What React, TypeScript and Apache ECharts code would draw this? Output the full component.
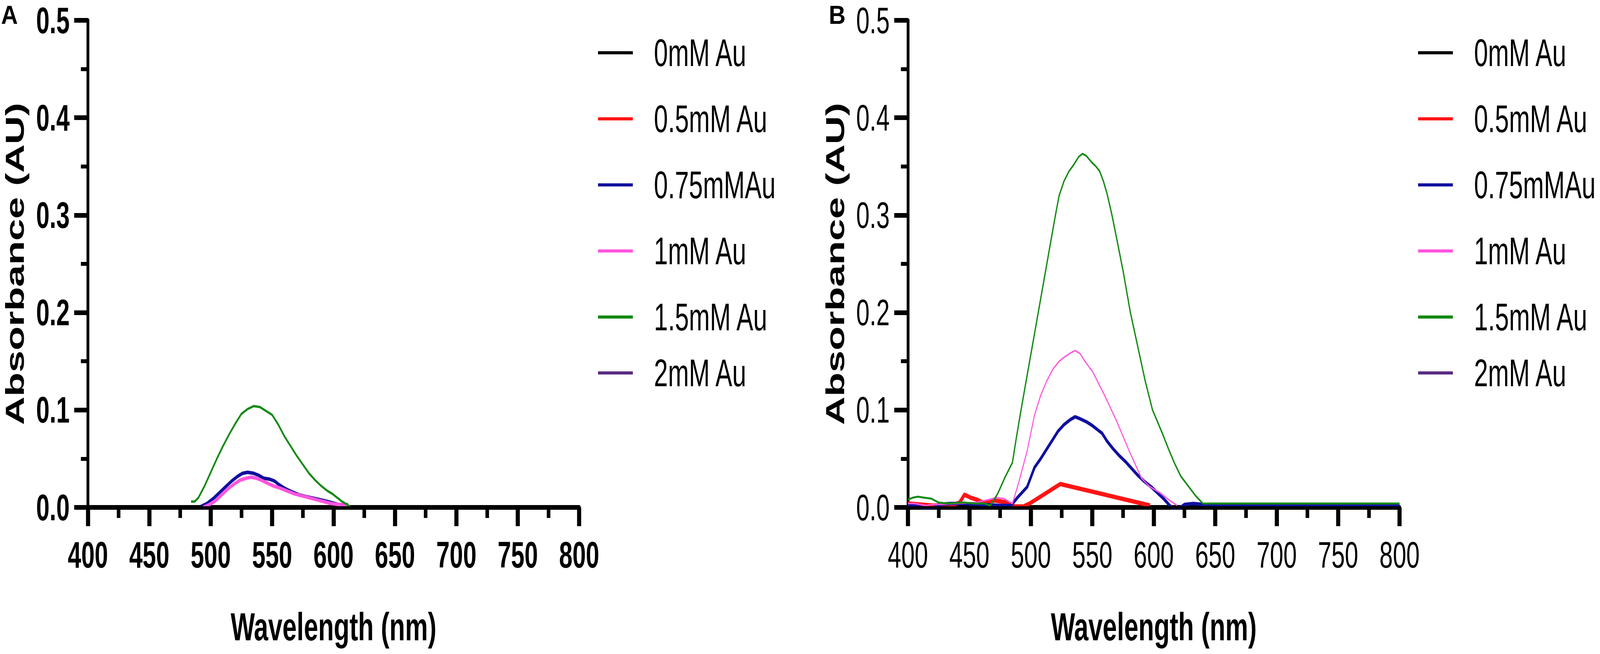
import React, { useEffect, useRef } from "react";
import * as echarts from "echarts";

// ---------- data ----------
const seriesNames = ["0mM Au", "0.5mM Au", "0.75mMAu", "1mM Au", "1.5mM Au", "2mM Au"];
const seriesColors = ["#000000", "#ff1414", "#1010a0", "#ff55dd", "#148a14", "#5b2c83"];
const xTicks = [400, 450, 500, 550, 600, 650, 700, 750, 800];
const yTicks = [0, 0.1, 0.2, 0.3, 0.4, 0.5];

// Panel A
const aBlack: number[][] = [[400, 0], [800, 0]];
const aRed: number[][] = [];
const aBlue: number[][] = [
  [492, 0.001], [497, 0.004], [502, 0.009], [507, 0.015], [512, 0.021], [517, 0.027], [522, 0.032],
  [526, 0.035], [530, 0.036], [535, 0.035], [539, 0.033], [543, 0.030], [548, 0.029], [552, 0.027],
  [556, 0.023], [561, 0.019], [566, 0.016], [572, 0.013], [578, 0.011], [585, 0.009], [592, 0.007],
  [598, 0.005], [604, 0.003], [610, 0.003],
];
const aPink: number[][] = [
  [494, 0.0], [499, 0.003], [504, 0.007], [509, 0.013], [514, 0.019], [519, 0.024], [524, 0.028],
  [529, 0.030], [533, 0.031], [537, 0.030], [541, 0.028], [546, 0.025], [551, 0.022], [556, 0.020],
  [562, 0.017], [568, 0.014], [574, 0.012], [580, 0.010], [586, 0.008], [592, 0.006], [598, 0.004],
  [604, 0.003], [612, 0.003],
];
const aGreen: number[][] = [
  [484, 0.006], [487, 0.006], [490, 0.010], [495, 0.022], [500, 0.036], [505, 0.050], [510, 0.063],
  [515, 0.075], [520, 0.086], [525, 0.096], [530, 0.101], [535, 0.104], [540, 0.103], [545, 0.099],
  [550, 0.095], [555, 0.085], [560, 0.073], [565, 0.063], [570, 0.053], [575, 0.044], [580, 0.035],
  [585, 0.028], [590, 0.022], [595, 0.017], [599, 0.014], [603, 0.010], [607, 0.006], [611, 0.003],
  [614, 0.0],
];
const aPurple: number[][] = [];

// Panel B
const bBlack: number[][] = [[400, 0], [800, 0]];
const bRed: number[][] = [
  [400, 0.004], [410, 0.003], [420, 0.002], [430, 0.002], [438, 0.003], [442, 0.005], [446, 0.013],
  [451, 0.010], [456, 0.008], [461, 0.005], [466, 0.006], [471, 0.007], [476, 0.006], [480, 0.005],
  [485, 0.001], [494, 0.001], [499, 0.004], [524, 0.024], [597, 0.002],
];
const bBlue: number[][] = [
  [400, 0.002], [408, 0.001], [413, -0.001], [417, -0.003], [421, -0.001], [425, 0.003], [435, 0.004],
  [445, 0.004], [460, 0.003], [475, 0.002], [484, 0.002], [489, 0.010], [497, 0.021], [503, 0.041],
  [508, 0.050], [512, 0.058], [517, 0.068], [522, 0.078], [527, 0.085], [532, 0.090], [536, 0.093],
  [540, 0.091], [545, 0.088], [550, 0.084], [555, 0.079], [558, 0.076], [562, 0.068], [567, 0.060],
  [572, 0.053], [577, 0.047], [582, 0.040], [587, 0.033], [592, 0.027], [598, 0.021], [603, 0.015],
  [608, 0.009], [613, 0.002], [617, -0.003], [621, -0.001], [625, 0.003], [632, 0.004], [640, 0.003],
  [660, 0.002], [700, 0.002], [800, 0.002],
];
const bPink: number[][] = [
  [400, 0.004], [405, 0.004], [410, 0.003], [415, 0.002], [420, 0.003], [425, 0.003], [440, 0.004],
  [455, 0.005], [466, 0.008], [472, 0.010], [478, 0.009], [485, 0.004], [490, 0.025], [497, 0.058],
  [503, 0.095], [508, 0.115], [513, 0.130], [518, 0.142], [523, 0.150], [528, 0.155], [533, 0.159],
  [536, 0.161], [540, 0.158], [544, 0.150], [548, 0.143], [550, 0.140], [552, 0.135], [560, 0.115],
  [570, 0.088], [580, 0.058], [590, 0.030], [596, 0.022], [605, 0.015], [612, 0.008], [619, 0.002],
];
const bGreen: number[][] = [
  [400, 0.008], [404, 0.010], [408, 0.011], [413, 0.010], [419, 0.009], [425, 0.005], [432, 0.004],
  [445, 0.005], [455, 0.004], [462, 0.004], [467, 0.002], [473, 0.014], [479, 0.031], [485, 0.046],
  [488, 0.070], [492, 0.100], [499, 0.150], [506, 0.200], [513, 0.250], [520, 0.300], [523, 0.320],
  [527, 0.335], [531, 0.345], [535, 0.352], [539, 0.360], [542, 0.363], [545, 0.361], [549, 0.355],
  [553, 0.350], [556, 0.345], [559, 0.335], [562, 0.322], [566, 0.300], [570, 0.275], [575, 0.243],
  [581, 0.200], [587, 0.165], [593, 0.130], [599, 0.100], [603, 0.088], [607, 0.076], [612, 0.060],
  [617, 0.045], [622, 0.032], [628, 0.022], [634, 0.012], [640, 0.004], [700, 0.004], [800, 0.004],
];
const bPurple: number[][] = [];

const panelAData = [aBlack, aRed, aBlue, aPink, aGreen, aPurple];
const panelBData = [bBlack, bRed, bBlue, bPink, bGreen, bPurple];
const panelAWidths = [6, 10, 9, 9, 6, 6];
const panelBWidths = [6, 11, 9, 4, 5, 6];

// ---------- layout ----------
// Positions are in reference pixels (4550 wide). The figure's drawing is horizontally
// compressed (factor S); the whole drawing is then fitted to the browser's width.
const S = 0.73;
const W = 4550;
const H = 1673;
const px = (v: number) => v / S;
const FONT = "'Liberation Sans', Arial, Helvetica, sans-serif";

const PLOT_TOP = 52;
const PLOT_BOTTOM = 1298;
const PANELS = [
  { left: 250, right: 1647, legendLeft: 1697, label: "A", labelX: 3, bold: true },
  { left: 2582, right: 3980, legendLeft: 4029, label: "B", labelX: 2357, bold: false },
];

function buildOption() {
  const grids: any[] = [];
  const xAxes: any[] = [];
  const yAxes: any[] = [];
  const series: any[] = [];
  const legends: any[] = [];
  const graphics: any[] = [];

  PANELS.forEach((p, i) => {
    grids.push({
      left: px(p.left),
      top: PLOT_TOP,
      width: px(p.right) - px(p.left),
      height: PLOT_BOTTOM - PLOT_TOP,
      containLabel: false,
    });
    const tickFont = {
      fontSize: 94,
      lineHeight: 90,
      fontFamily: FONT,
      color: "#000",
      fontWeight: p.bold ? "bold" : "normal",
    };
    xAxes.push({
      type: "value",
      gridIndex: i,
      min: xTicks[0],
      max: xTicks[xTicks.length - 1],
      interval: xTicks[1] - xTicks[0],
      axisLine: { show: true, onZero: false, lineStyle: { color: "#000", width: 12 } },
      axisTick: { show: true, length: 48, lineStyle: { color: "#000", width: 16 } },
      minorTick: { show: true, splitNumber: 2, length: 27, lineStyle: { color: "#000", width: 14 } },
      splitLine: { show: false },
      minorSplitLine: { show: false },
      axisLabel: { ...tickFont, margin: 76 },
      name: "Wavelength (nm)",
      nameLocation: "middle",
      nameGap: 265,
      nameTextStyle: { fontSize: 100, lineHeight: 80, fontWeight: "bold", fontFamily: FONT, color: "#000" },
    });
    yAxes.push({
      type: "value",
      gridIndex: i,
      min: yTicks[0],
      max: yTicks[yTicks.length - 1],
      interval: yTicks[1] - yTicks[0],
      axisLine: { show: true, onZero: false, lineStyle: { color: "#000", width: px(8) } },
      axisTick: { show: true, length: px(39), lineStyle: { color: "#000", width: 12 } },
      minorTick: { show: true, splitNumber: 2, length: px(20), lineStyle: { color: "#000", width: 10 } },
      splitLine: { show: false },
      minorSplitLine: { show: false },
      axisLabel: { ...tickFont, margin: px(52), formatter: (v: number) => v.toFixed(1) },
      name: "Absorbance (AU)",
      nameLocation: "middle",
      nameRotate: 90,
      nameGap: 244,
      nameTextStyle: { fontSize: 101, lineHeight: 80, fontWeight: "bold", fontFamily: FONT, color: "#000" },
    });

    const data = i === 0 ? panelAData : panelBData;
    const widths = i === 0 ? panelAWidths : panelBWidths;
    seriesNames.forEach((name, k) => {
      series.push({
        type: "line",
        name,
        xAxisIndex: i,
        yAxisIndex: i,
        data: data[k],
        showSymbol: false,
        symbol: "none",
        color: seriesColors[k],
        itemStyle: { color: seriesColors[k] },
        lineStyle: { color: seriesColors[k], width: widths[k], join: "round" },
        z: k === 0 ? 3 : k === 5 ? 1 : 2,
      });
    });

    const legendCommon = {
      orient: "vertical",
      left: px(p.legendLeft),
      icon: "rect",
      itemWidth: px(99),
      itemHeight: 8,
      itemGap: 69,
      selectedMode: false,
      textStyle: {
        fontSize: 98,
        lineHeight: 100,
        fontFamily: FONT,
        color: "#000",
        padding: [0, 0, 0, px(60) - 5],
      },
    };
    legends.push({ ...legendCommon, top: 80, data: seriesNames.slice(0, 5) });
    legends.push({ ...legendCommon, top: 899, data: seriesNames.slice(5) });

    graphics.push({
      type: "text",
      x: px(p.labelX),
      y: 38,
      scaleX: 1 / S,
      style: {
        text: p.label,
        fontSize: 66,
        lineHeight: 60,
        fontWeight: "bold",
        fontFamily: FONT,
        fill: "#000",
        align: "left",
        verticalAlign: "middle",
      },
    });
  });

  return {
    animation: false,
    backgroundColor: "#ffffff",
    grid: grids,
    xAxis: xAxes,
    yAxis: yAxes,
    legend: legends,
    series,
    graphic: graphics,
  };
}

export default function App() {
  const ref = useRef<HTMLDivElement>(null);
  const vw = typeof window !== "undefined" && window.innerWidth ? Math.min(W, window.innerWidth) : W;
  const kx = vw / W;
  const T = S * kx;
  useEffect(() => {
    document.body.style.margin = "0";
    document.body.style.overflow = "hidden";
    if (!ref.current) return;
    const chart = echarts.init(ref.current, undefined, { renderer: "svg" });
    chart.setOption(buildOption() as any);
    return () => chart.dispose();
  }, []);
  return (
    <div style={{ width: vw, height: H, overflow: "hidden", background: "#fff" }}>
      <div
        ref={ref}
        style={{
          width: px(W),
          height: H,
          transform: `scaleX(${T})`,
          transformOrigin: "0 0",
        }}
      />
    </div>
  );
}
